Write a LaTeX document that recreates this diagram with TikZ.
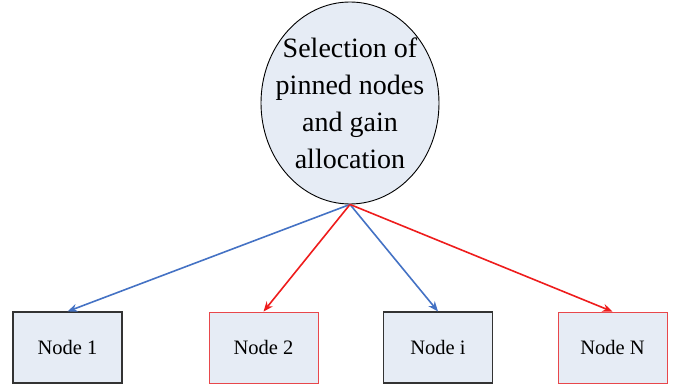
\documentclass[tikz,border=0pt]{standalone}
\usepackage{fontspec}
\setmainfont{Liberation Serif}
\usetikzlibrary{arrows.meta,shapes.geometric}
\definecolor{fillc}{HTML}{E6ECF5}
\definecolor{blueA}{HTML}{4472C4}
\definecolor{redA}{HTML}{EE1C1C}
\definecolor{redB}{HTML}{E8474B}
\definecolor{darkB}{HTML}{333333}
\tikzset{
  nodebox/.style={draw=darkB, line width=1.1pt, fill=fillc, minimum width=109pt, minimum height=71pt, inner sep=0pt, font=\fontsize{20.5}{24}\selectfont},
  rednodebox/.style={nodebox, draw=redB, line width=0.8pt},
  conn/.style={line width=1.6pt, -{Stealth[length=10pt,width=8pt]}},
}
\begin{document}
\begin{tikzpicture}[x=1pt,y=1pt]
\useasboundingbox (0,0) rectangle (678,391);
\node[ellipse, draw=black, line width=0.9pt, fill=fillc, minimum width=178pt, minimum height=202pt, inner sep=0pt] (sel) at (350,288) {};
\node[align=center, inner sep=0pt, font=\fontsize{28}{37}\selectfont] (selt) at (sel.center) {Selection of\\pinned nodes\\and gain\\allocation};
\node[nodebox] (n1) at (67.5,43.5) {Node 1};
\node[rednodebox] (n2) at (263.5,43.5) {Node 2};
\node[nodebox] (ni) at (438,43.5) {Node i};
\node[rednodebox] (nN) at (612.5,43.5) {Node N};
\draw[conn, blueA] (sel.south) -- (n1.north);
\draw[conn, redA] (sel.south) -- (n2.north);
\draw[conn, blueA] (sel.south) -- (ni.north);
\draw[conn, redA] (sel.south) -- (nN.north);
\end{tikzpicture}
\end{document}
